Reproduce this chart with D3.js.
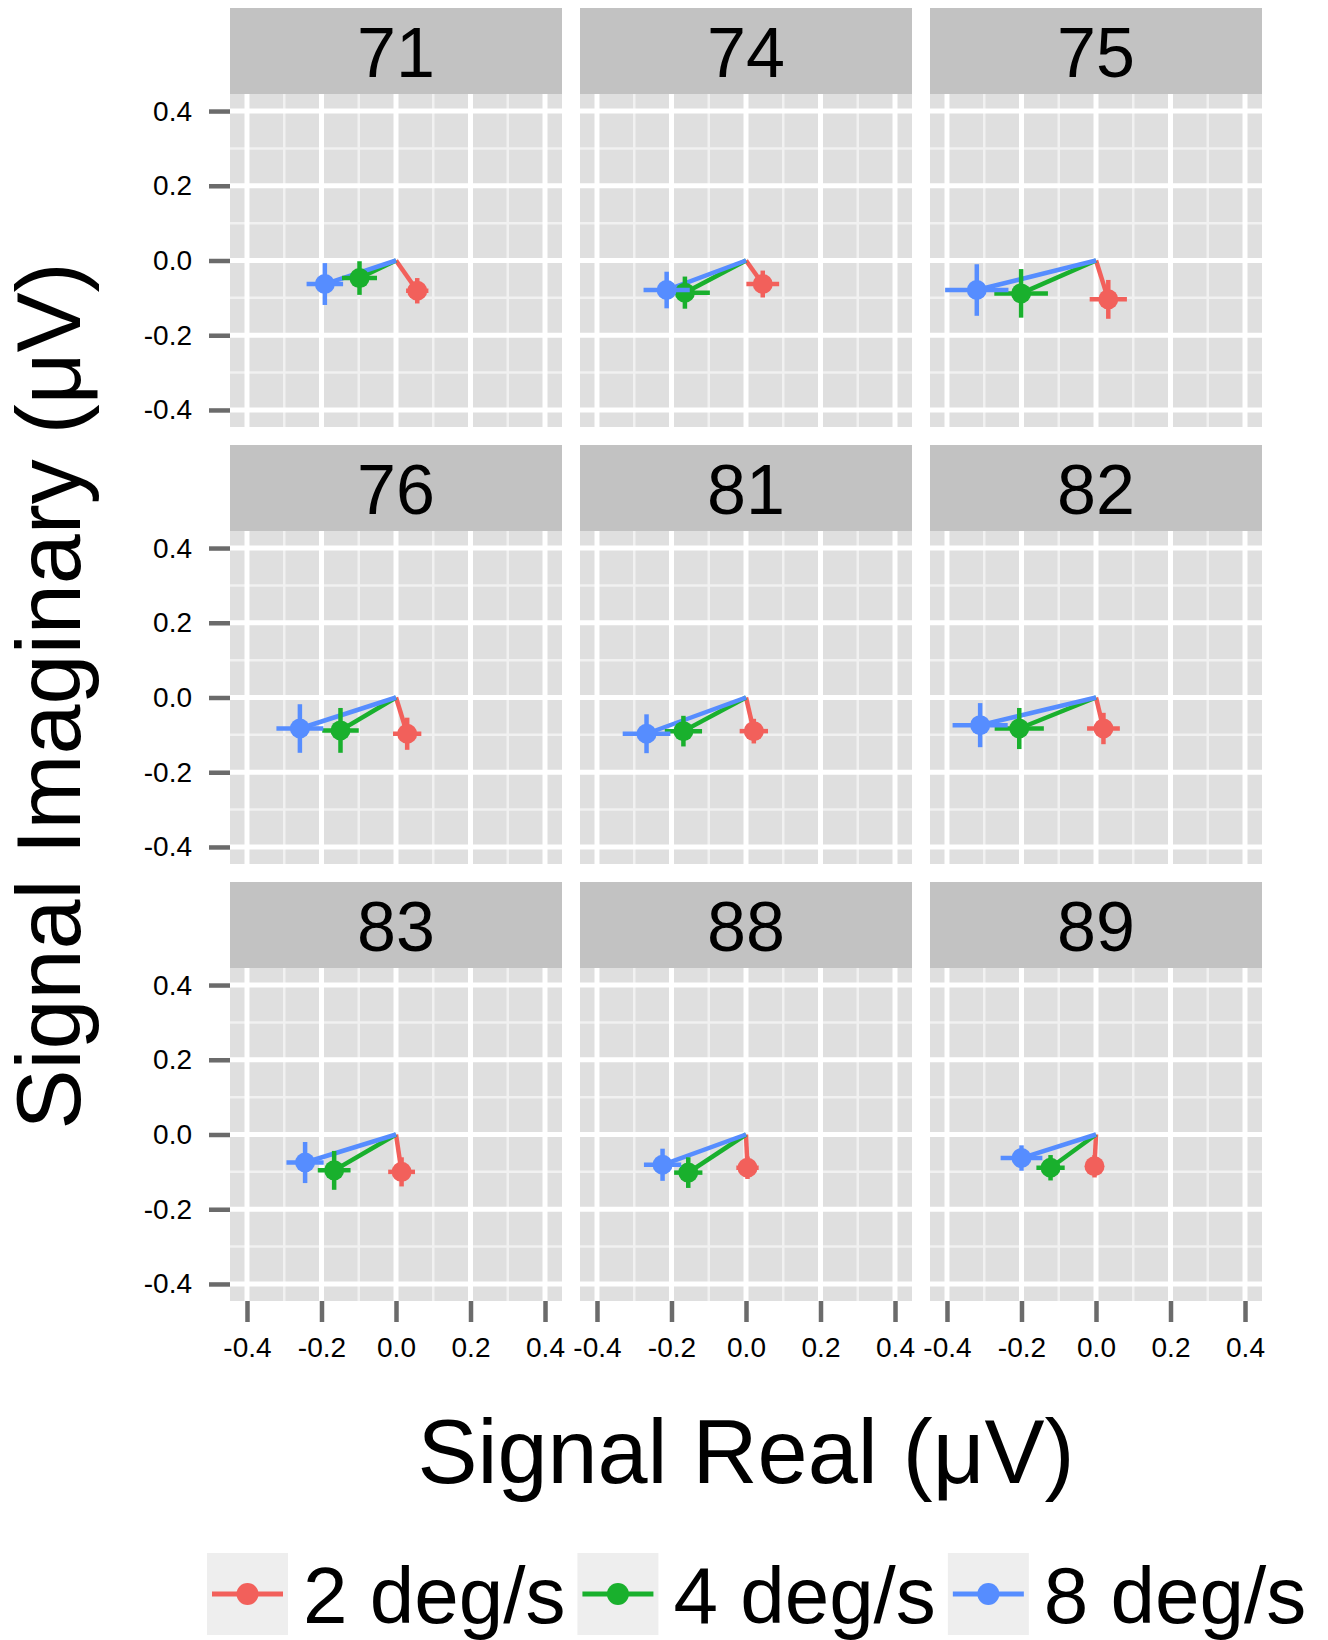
<!DOCTYPE html>
<html>
<head>
<meta charset="utf-8">
<script src="https://d3js.org/d3.v7.min.js"></script>
<style>
  body { margin: 0; background: #fff; }
  svg { display: block; font-family: "Liberation Sans", Arial, sans-serif; }
</style>
</head>
<body>
<script>
// data: one value per subject, in subject order
const subjects = ["71", "74", "75", "76", "81", "82", "83", "88", "89"];
const speeds = ["2 deg/s", "4 deg/s", "8 deg/s"];
const colors = ["#F2605B", "#19B02D", "#568DFF"];

const real2 = [0.057, 0.045, 0.033, 0.030, 0.021, 0.020, 0.015, 0.004, -0.004];
const imag2 = [-0.081, -0.063, -0.104, -0.097, -0.090, -0.083, -0.100, -0.089, -0.085];
const errRe2 = [0.030, 0.044, 0.050, 0.038, 0.038, 0.044, 0.036, 0.030, 0.020];
const errIm2 = [0.034, 0.036, 0.052, 0.043, 0.033, 0.042, 0.039, 0.030, 0.030];

const real4 = [-0.098, -0.164, -0.201, -0.149, -0.168, -0.206, -0.166, -0.155, -0.122];
const imag4 = [-0.047, -0.086, -0.088, -0.088, -0.090, -0.083, -0.096, -0.102, -0.089];
const errRe4 = [0.047, 0.067, 0.072, 0.049, 0.050, 0.066, 0.044, 0.038, 0.038];
const errIm4 = [0.045, 0.043, 0.065, 0.060, 0.041, 0.055, 0.052, 0.041, 0.034];

const real8 = [-0.191, -0.213, -0.320, -0.258, -0.267, -0.311, -0.244, -0.224, -0.200];
const imag8 = [-0.063, -0.079, -0.079, -0.083, -0.097, -0.074, -0.075, -0.081, -0.063];
const errRe8 = [0.049, 0.062, 0.085, 0.063, 0.064, 0.074, 0.050, 0.050, 0.056];
const errIm8 = [0.056, 0.049, 0.069, 0.065, 0.052, 0.059, 0.055, 0.043, 0.034];

const ticks = [-0.4, -0.2, 0.0, 0.2, 0.4];
const minorTicks = [-0.3, -0.1, 0.1, 0.3];

const width = 1328, height = 1640;
const left0 = 230, top0 = 8;
const panelW = 332, panelH = 333, stripH = 86, gap = 18;
const lim = 0.4456;

const reals = [real2, real4, real8];
const imags = [imag2, imag4, imag8];
const errRes = [errRe2, errRe4, errRe8];
const errIms = [errIm2, errIm4, errIm8];

let svg = d3.select("body").append("svg")
    .attr("width", width)
    .attr("height", height);

let x = d3.scaleLinear().domain([-lim, lim]).range([0, panelW]);
let y = d3.scaleLinear().domain([-lim, lim]).range([panelH, 0]);

const fmt = d => d.toFixed(1);

subjects.forEach(function(subj, i) {
    const col = i % 3, row = Math.floor(i / 3);
    const px = left0 + col * (panelW + gap);
    const py = top0 + row * (panelH + stripH + gap);

    // strip
    svg.append("rect")
        .attr("x", px).attr("y", py)
        .attr("width", panelW).attr("height", stripH)
        .attr("fill", "#c2c2c2");
    svg.append("text")
        .attr("x", px + panelW / 2).attr("y", py + 69)
        .attr("text-anchor", "middle")
        .attr("font-size", 70)
        .text(subj);

    let g = svg.append("g").attr("transform", `translate(${px},${py + stripH})`);

    g.append("rect")
        .attr("width", panelW).attr("height", panelH)
        .attr("fill", "#dfdfdf");

    // minor grid
    g.selectAll(".minor-x").data(minorTicks).enter().append("line")
        .attr("x1", d => x(d)).attr("x2", d => x(d))
        .attr("y1", 0).attr("y2", panelH)
        .attr("stroke", "#f1f1f1").attr("stroke-width", 2.5);
    g.selectAll(".minor-y").data(minorTicks).enter().append("line")
        .attr("y1", d => y(d)).attr("y2", d => y(d))
        .attr("x1", 0).attr("x2", panelW)
        .attr("stroke", "#f1f1f1").attr("stroke-width", 2.5);
    // major grid
    g.selectAll(".major-x").data(ticks).enter().append("line")
        .attr("x1", d => x(d)).attr("x2", d => x(d))
        .attr("y1", 0).attr("y2", panelH)
        .attr("stroke", "#fff").attr("stroke-width", 5);
    g.selectAll(".major-y").data(ticks).enter().append("line")
        .attr("y1", d => y(d)).attr("y2", d => y(d))
        .attr("x1", 0).attr("x2", panelW)
        .attr("stroke", "#fff").attr("stroke-width", 5);

    // y axis on the left column
    if (col === 0) {
        let ya = g.append("g").call(d3.axisLeft(y).tickValues(ticks).tickFormat(fmt)
            .tickSize(21).tickPadding(17));
        ya.select(".domain").remove();
        ya.selectAll(".tick line").attr("stroke", "#6b6b6b").attr("stroke-width", 4.5);
        ya.selectAll(".tick text").attr("font-size", 28).attr("fill", "#000")
            .attr("font-family", "Liberation Sans, Arial, sans-serif");
    }
    // x axis on the bottom row
    if (row === 2) {
        let xa = g.append("g").attr("transform", `translate(0,${panelH})`)
            .call(d3.axisBottom(x).tickValues(ticks).tickFormat(fmt)
            .tickSize(21).tickPadding(15));
        xa.select(".domain").remove();
        xa.selectAll(".tick line").attr("stroke", "#6b6b6b").attr("stroke-width", 4.5);
        xa.selectAll(".tick text").attr("font-size", 28).attr("fill", "#000")
            .attr("font-family", "Liberation Sans, Arial, sans-serif");
    }

    // segments from origin
    speeds.forEach(function(s, k) {
        g.append("line")
            .attr("x1", x(0)).attr("y1", y(0))
            .attr("x2", x(reals[k][i])).attr("y2", y(imags[k][i]))
            .attr("stroke", colors[k]).attr("stroke-width", 4.5);
    });
    // error bars and points
    speeds.forEach(function(s, k) {
        const re = reals[k][i], im = imags[k][i];
        g.append("line")
            .attr("x1", x(re - errRes[k][i])).attr("x2", x(re + errRes[k][i]))
            .attr("y1", y(im)).attr("y2", y(im))
            .attr("stroke", colors[k]).attr("stroke-width", 4.5);
        g.append("line")
            .attr("x1", x(re)).attr("x2", x(re))
            .attr("y1", y(im - errIms[k][i])).attr("y2", y(im + errIms[k][i]))
            .attr("stroke", colors[k]).attr("stroke-width", 4.5);
        g.append("circle")
            .attr("cx", x(re)).attr("cy", y(im)).attr("r", 10)
            .attr("fill", colors[k]);
    });
});

// axis titles
const plotLeft = left0, plotRight = left0 + 3 * panelW + 2 * gap;
svg.append("text")
    .attr("x", (plotLeft + plotRight) / 2).attr("y", 1483)
    .attr("text-anchor", "middle")
    .attr("font-size", 90)
    .text("Signal Real (\u03bcV)");

svg.append("text")
    .attr("transform", "translate(80,696) rotate(-90)")
    .attr("text-anchor", "middle")
    .attr("font-size", 90)
    .text("Signal Imaginary (\u03bcV)");

// legend
let lx = 207;
speeds.forEach(function(s, k) {
    let lg = svg.append("g").attr("transform", `translate(${lx},1553)`);
    lg.append("rect").attr("width", 81).attr("height", 82).attr("fill", "#eeeeee");
    lg.append("line").attr("x1", 5).attr("x2", 76).attr("y1", 41).attr("y2", 41)
        .attr("stroke", colors[k]).attr("stroke-width", 5);
    lg.append("circle").attr("cx", 40.5).attr("cy", 41).attr("r", 11).attr("fill", colors[k]);
    let t = lg.append("text").attr("x", 96).attr("y", 70)
        .attr("font-size", 80)
        .text(s);
    lx += 96 + t.node().getComputedTextLength() + 12;
});
</script>
</body>
</html>
